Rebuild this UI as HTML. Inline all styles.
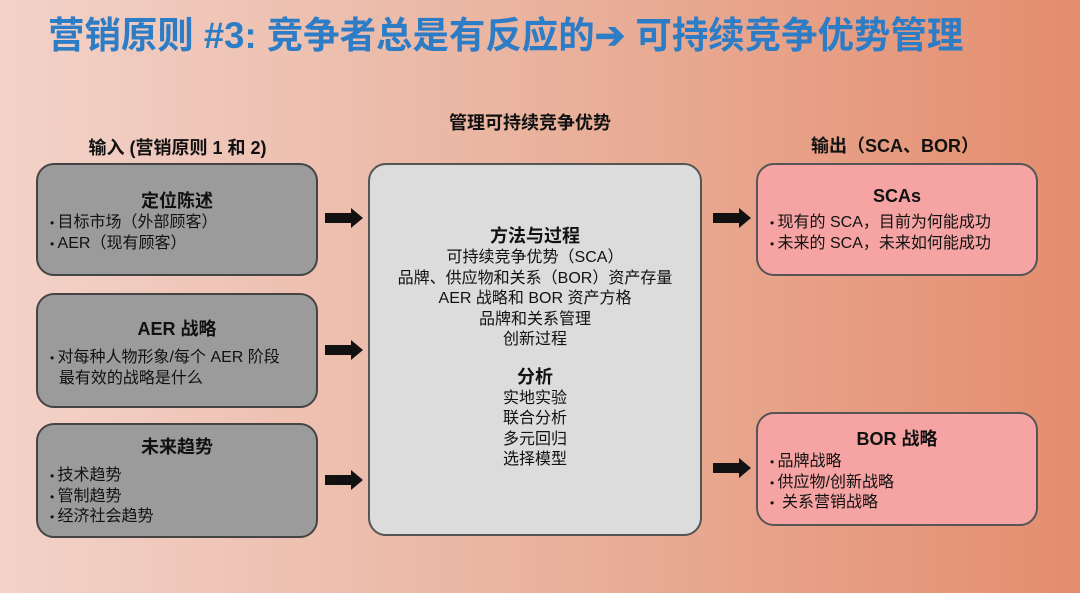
<!DOCTYPE html>
<html><head><meta charset="utf-8"><style>
*{margin:0;padding:0;box-sizing:border-box}
body{width:1080px;height:593px;overflow:hidden;position:relative;font-family:"Liberation Sans","Noto Sans CJK SC",sans-serif;background:linear-gradient(90deg,#f3d2c9 0%,#eab6a2 45%,#e48d6e 100%);color:#111}
.t{position:absolute;left:48px;top:14px;font-size:37px;font-weight:bold;color:#2d7cc6;white-space:nowrap;line-height:44px;transform-origin:left center;transform:scaleX(0.985)}
.h{position:absolute;font-size:18px;font-weight:bold;white-space:nowrap;text-align:center}
.b{position:absolute;border:2px solid #444;border-radius:18px}
.g{background:#9b9b9b}
.p{background:#f5a3a3;border-color:#555}
.c{background:#dcdcdc;border-color:#555;text-align:center;font-size:16px;line-height:20.5px}
.b h3{font-size:18px;text-align:center;font-weight:bold}
.b ul{list-style:none;font-size:16px;line-height:20.5px;margin-left:12px}
.b li:before{content:"• ";font-size:12px}
.a{position:absolute;width:38px;height:20px}
</style></head><body>
<div class="t">营销原则 #3: 竞争者总是有反应的➔ 可持续竞争优势管理</div>
<div class="h" style="left:55px;width:245px;top:134px">输入 (营销原则 1 和 2)</div>
<div class="h" style="left:400px;width:260px;top:109px">管理可持续竞争优势</div>
<div class="h" style="left:770px;width:250px;top:132px">输出（SCA、BOR）</div>

<div class="b g" style="left:36px;top:163px;width:282px;height:113px;padding-top:22px"><h3>定位陈述</h3><ul><li>目标市场（外部顾客）</li><li>AER（现有顾客）</li></ul></div>
<div class="b g" style="left:36px;top:293px;width:282px;height:115px;padding-top:20px"><h3>AER 战略</h3><ul style="margin-top:7px"><li>对每种人物形象/每个 AER 阶段<br>&nbsp;&nbsp;最有效的战略是什么</li></ul></div>
<div class="b g" style="left:36px;top:423px;width:282px;height:115px;padding-top:8px"><h3>未来趋势</h3><ul style="margin-top:7px"><li>技术趋势</li><li>管制趋势</li><li>经济社会趋势</li></ul></div>

<div class="b c" style="left:368px;top:163px;width:334px;height:373px;padding-top:59px">
<div style="font-size:18px;font-weight:bold;line-height:24px">方法与过程</div>
可持续竞争优势（SCA）<br>品牌、供应物和关系（BOR）资产存量<br>AER 战略和 BOR 资产方格<br>品牌和关系管理<br>创新过程
<div style="font-size:18px;font-weight:bold;line-height:24px;margin-top:14px">分析</div>
实地实验<br>联合分析<br>多元回归<br>选择模型
</div>

<div class="b p" style="left:756px;top:163px;width:282px;height:113px;padding-top:21px"><h3>SCAs</h3><ul style="margin-top:6px"><li>现有的 SCA，目前为何能成功</li><li>未来的 SCA，未来如何能成功</li></ul></div>
<div class="b p" style="left:756px;top:412px;width:282px;height:114px;padding-top:11px"><h3>BOR 战略</h3><ul style="margin-top:1px"><li>品牌战略</li><li>供应物/创新战略</li><li>&nbsp;关系营销战略</li></ul></div>

<svg class="a" style="left:325px;top:208px" viewBox="0 0 38 20"><path d="M0 5H26V0L38 10 26 20V15H0Z" fill="#111"/></svg>
<svg class="a" style="left:325px;top:340px" viewBox="0 0 38 20"><path d="M0 5H26V0L38 10 26 20V15H0Z" fill="#111"/></svg>
<svg class="a" style="left:325px;top:470px" viewBox="0 0 38 20"><path d="M0 5H26V0L38 10 26 20V15H0Z" fill="#111"/></svg>
<svg class="a" style="left:713px;top:208px" viewBox="0 0 38 20"><path d="M0 5H26V0L38 10 26 20V15H0Z" fill="#111"/></svg>
<svg class="a" style="left:713px;top:458px" viewBox="0 0 38 20"><path d="M0 5H26V0L38 10 26 20V15H0Z" fill="#111"/></svg>
</body></html>
